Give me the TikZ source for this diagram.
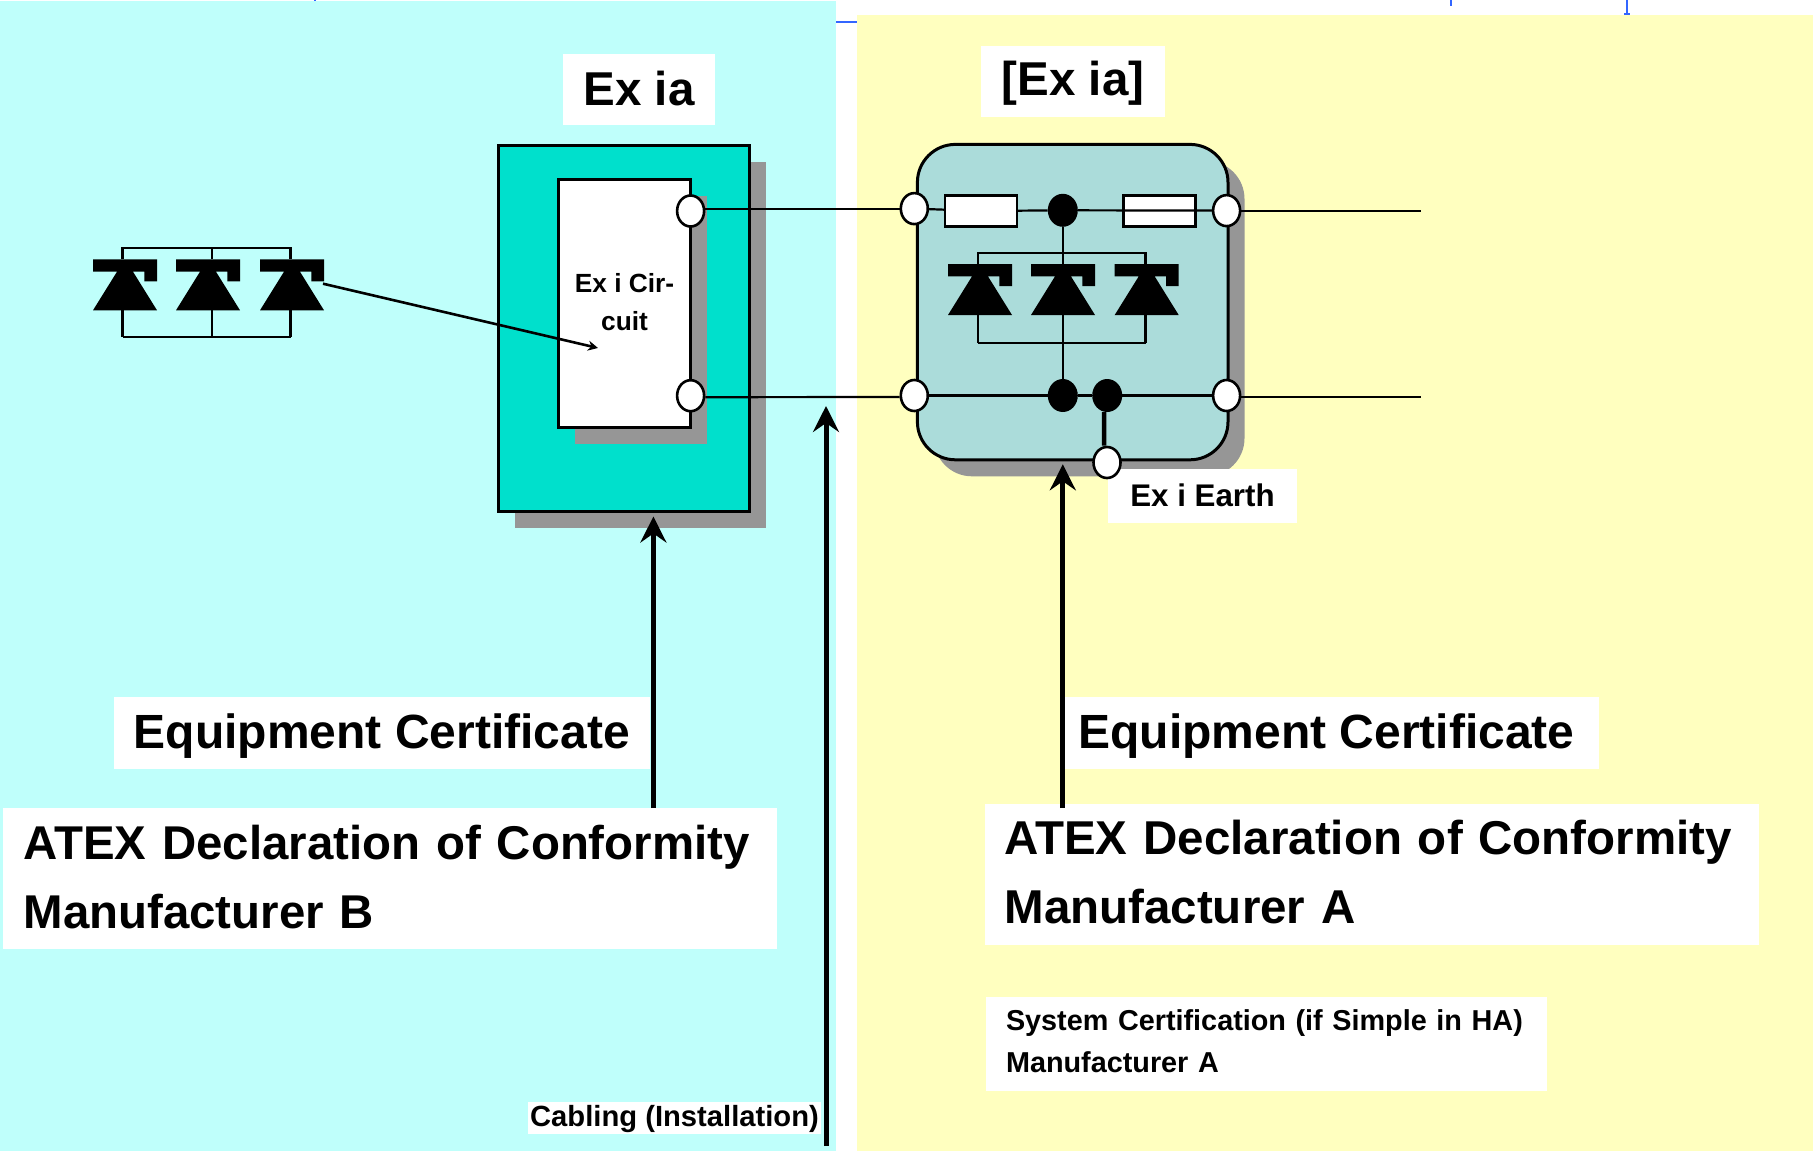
\documentclass[tikz,border=0pt]{standalone}
\usepackage{fontspec}
\setmainfont{Liberation Sans}
\usepackage{tikz}
\usetikzlibrary{shapes}
\usetikzlibrary{shadows}
\usetikzlibrary{arrows.meta}
\definecolor{cyanBg}{HTML}{BFFFFB}
\definecolor{yellowBg}{HTML}{FFFFBF}
\definecolor{tealBox}{HTML}{00E0CC}
\definecolor{paleBox}{HTML}{ABDCDA}
\definecolor{shadowGrey}{HTML}{969696}
\definecolor{markBlue}{HTML}{3366FF}
\tikzstyle{wire} = [line width=2.2pt]
\tikzstyle{port} = [draw, ellipse, fill=white, line width=2.6pt, inner sep=0pt,
   minimum width=27pt, minimum height=31pt]
\tikzstyle{dot} = [fill=black, ellipse, inner sep=0pt, minimum width=30pt, minimum height=33pt]
\tikzstyle{resistor} = [draw, fill=white, line width=2.4pt, inner sep=0pt,
   minimum width=72pt, minimum height=31pt]
\tikzstyle{bigArrow} = [-{Stealth[length=26pt,width=26pt,inset=9pt]}, line width=5pt]
\tikzstyle{greyDrop} = [drop shadow={shadow xshift=16.5pt, shadow yshift=-16.5pt,
   fill=shadowGrey, opacity=1}]
\tikzstyle{labelBox} = [fill=white, inner sep=0pt, font=\bfseries]
% one diode: name, centre x, top y
\newcommand{\zener}[3]{
  \fill (#2-32,#3) -- (#2+32,#3) -- (#2+32,#3+22) -- (#2+19.4,#3+22) -- (#2+19.4,#3+12.4)
     -- (#2+8,#3+12.4) -- (#2+32,#3+51) -- (#2-32,#3+51) -- (#2-8,#3+12.4) -- (#2-32,#3+12.4) -- cycle;
  \coordinate (#1) at (#2,#3);
}
% invisible struts, to move a text up or down in its box
\newcommand{\padDown}[1]{\rule[-#1]{0pt}{#1}}
\newcommand{\padUp}[1]{\rule{0pt}{#1}}
\begin{document}
\begin{tikzpicture}[x=1pt,y=-1pt]
    \useasboundingbox (0,0) rectangle (1813,1151);
    \fill[cyanBg] (0,1) rectangle (836,1151);
    \fill[yellowBg] (857,15) rectangle (1813,1151);
    \draw[markBlue, line width=2pt] (836,22) -- (857,22);
    \draw[markBlue, line width=1.2pt] (315,0) -- (315,1);
    \draw[markBlue, line width=1.2pt] (1451,0) -- (1451,6);
    \draw[markBlue, line width=1.2pt] (1627,0) -- (1627,14);
    \fill[markBlue] (1624,13) rectangle (1630,15);

    % manufacturer B side
    \node[draw, fill=tealBox, greyDrop, line width=3pt, inner sep=0pt, minimum width=251pt,
       minimum height=366pt] (exBox) at (623.5,328) {};
    \node[draw, fill=white, greyDrop, line width=3pt, inner sep=0pt, minimum width=132pt,
       minimum height=248pt, align=center, font=\bfseries\fontsize{26.3}{38}\selectfont]
       (circuit) at (624.5,303) {Ex i Cir-\\cuit\padDown{2pt}};
    \node[port] (portBt) at (690.6,211) {};
    \node[port] (portBb) at (690.6,395.7) {};

    % manufacturer A side
    \node[draw, fill=paleBox, greyDrop, line width=3pt, rounded corners=38pt, inner sep=0pt,
       minimum width=310.6pt, minimum height=315.4pt] (apparatus) at (1072.7,302.1) {};
    \node[resistor] (resL) at (981,211) {};
    \node[resistor] (resR) at (1159.5,211) {};
    \node[dot] (dotT) at (1062.8,210.3) {};
    \node[dot] (dotB) at (1062.8,395.5) {};
    \node[dot] (dotE) at (1107.2,395.5) {};
    \node[port] (portAtl) at (914.3,208.6) {};
    \node[port] (portAbl) at (914.3,395.5) {};
    \node[port] (portAtr) at (1226.6,210.6) {};
    \node[port] (portAbr) at (1226.6,395.5) {};
    \coordinate (endT) at (1420.6,210.6);
    \coordinate (endB) at (1420.6,397);

    \draw [wire] (portAtl) -- (resL);
    \draw [wire] (resL) -- (dotT);
    \draw [wire] (dotT) -- (portAtr);
    \draw [wire] (portAtr) -- (endT);
    \draw [wire] (portAbl) -- (dotB);
    \draw [wire] (dotE) -- (portAbr);
    \draw [wire] (dotB) -- (dotE);
    \draw [wire] (portAbr.east |- endB) -- (endB);
    \draw [wire] (dotT) -- (dotB);
    \draw [wire] (portBt.east |- portAtl) -- (portAtl.west);
    \draw [wire] ([yshift=-1.5pt]portBb.east) -- ([yshift=-1.5pt]portAbl.west);

    % diodes in the apparatus
    \zener{znA}{980}{264}
    \zener{znB}{1063}{264}
    \zener{znC}{1146.7}{264}
    \coordinate (busAl) at (978,253);
    \coordinate (busAr) at (1145.5,253);
    \coordinate (busBl) at (978,343);
    \coordinate (busBr) at (1145.5,343);
    \draw [wire] (busAl |- znA) -- (busAl) -- (busAr) -- (busAr |- znC);
    \draw [wire] (busBl) -- (busBr);
    \draw [wire] (busBl) -- +(0,-28);
    \draw [wire] (busBr) -- +(0,-28);

    % diodes in the field
    \zener{znD}{125}{259.3}
    \zener{znE}{208}{259.3}
    \zener{znF}{292}{259.3}
    \coordinate (busCl) at (122.5,248);
    \coordinate (busCm) at (211.6,248);
    \coordinate (busCr) at (290.5,248);
    \coordinate (busDl) at (122.5,337);
    \coordinate (busDm) at (211.6,337);
    \coordinate (busDr) at (290.5,337);
    \draw [wire] (busCl |- znD) -- (busCl) -- (busCr) -- (busCr |- znF);
    \draw [wire] (busCm) -- (busCm |- znE);
    \draw [wire] (busDl) -- +(0,-27);
    \draw [wire] (busDl) -- (busDr);
    \draw [wire] (busDr) -- +(0,-27);
    \draw [wire] (busDm) -- +(0,-27);

    \coordinate (arcFrom) at (323,283.7);
    \coordinate (arcTo) at (598,348);
    \draw [-{Stealth[length=10pt,width=10pt]}, line width=2.6pt] (arcFrom) -- (arcTo);

    % earth
    \node[labelBox, minimum width=189pt, minimum height=54pt, font=\bfseries\fontsize{31.3}{36}\selectfont]
       (earthLabel) at (1202.5,496) {Ex i Earth\padDown{2pt}};
    \node[port] (portE) at (1107,462.5) {};
    \draw [line width=4.5pt] ([xshift=-3pt]dotE.south) -- ([xshift=-3pt]portE.north);

    % labels
    \node[labelBox, minimum width=152pt, minimum height=71pt, font=\bfseries\fontsize{47.5}{55}\selectfont]
       (exLabel) at (639,89.5) {Ex ia\padDown{2.4pt}};
    \node[labelBox, minimum width=184pt, minimum height=71pt, font=\bfseries\fontsize{47.5}{55}\selectfont]
       (exaLabel) at (1073,81.5) {\padUp{37pt}[Ex ia]};
    \node[labelBox, minimum width=536pt, minimum height=72pt, font=\bfseries\fontsize{48}{55}\selectfont]
       (certB) at (382,733) {\padUp{40pt}Equipment Certificate};
    \node[labelBox, minimum width=534pt, minimum height=72pt, font=\bfseries\fontsize{48}{55}\selectfont]
       (certA) at (1332,733) {\hspace{-11pt}\padUp{40pt}Equipment Certificate};
    \node[labelBox, minimum width=773.5pt, minimum height=141pt, text width=733pt, align=left,
       font=\bfseries\fontsize{47.4}{69}\selectfont] (atexB) at (390.2,878.5)
       {ATEX Declaration of Conformity\\Manufacturer B\padDown{4pt}};
    \node[labelBox, minimum width=774pt, minimum height=141pt, text width=732pt, align=left,
       font=\bfseries\fontsize{47.5}{69}\selectfont] (atexA) at (1372,874.5)
       {\hspace{-1.5pt}ATEX Declaration of Conformity\\\hspace{-1.5pt}Manufacturer A\padDown{5pt}};
    \node[labelBox, minimum width=561pt, minimum height=94pt, text width=521pt, align=left,
       font=\bfseries\fontsize{28.8}{42}\selectfont] (sysCert) at (1266.5,1044)
       {\mbox{System Certification (if Simple in HA)}\\Manufacturer A\padDown{5pt}};
    \node[labelBox, minimum width=293pt, minimum height=32pt, font=\bfseries\fontsize{29.2}{32}\selectfont]
       (cabling) at (674.5,1118) {\padUp{23.5pt}Cabling (Installation)};

    % arrows
    \coordinate (arrB) at (653.4,808);
    \coordinate (arrC) at (826,1146);
    \coordinate (arrCt) at (826,406);
    \coordinate (arrA) at (1062.8,808);
    \draw [bigArrow, shorten >=4pt] (arrB) -- (arrB |- exBox.south);
    \draw [bigArrow] (arrC) -- (arrCt);
    \draw [bigArrow, shorten >=3pt] (arrA) -- (arrA |- apparatus.south);
  \end{tikzpicture}
\end{document}
